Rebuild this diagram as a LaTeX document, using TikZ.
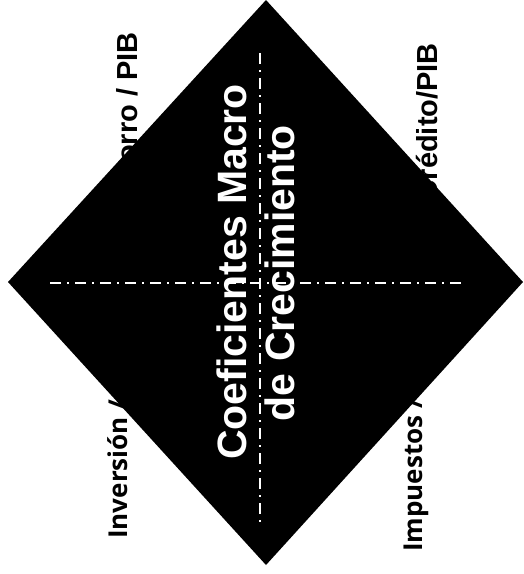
\documentclass[tikz,border=0pt]{standalone}
\usepackage{fontspec}
\setmainfont{Liberation Sans}
\newfontfamily\osans{Open Sans}
\begin{document}
\begin{tikzpicture}[x=1pt,y=-1pt,
  sidelabel/.style={rotate=90,inner sep=0pt,text=black,font=\fontsize{29}{29}\selectfont\bfseries},
  lowlabel/.style={rotate=90,inner sep=0pt,text=black,font=\fontsize{26}{26}\selectfont\osans\bfseries},
  maintext/.style={rotate=90,inner sep=0pt,text=white,font=\fontsize{41}{41}\selectfont\bfseries},
  axisline/.style={white,line width=2pt,dash pattern=on 11pt off 6pt on 2pt off 6pt}]
\useasboundingbox (0,0) rectangle (524,574);
% labels partly covered by the diamond
\node[sidelabel,anchor=base east] (ahorro) at (137,32) {Ahorro / PIB};
\node[sidelabel,anchor=base east] (credito) at (437,43) {Crédito/PIB};
\node[lowlabel,anchor=base west] (inversion) at (127,539) {Inversión / PIB};
\node[lowlabel,anchor=base west] (impuestos) at (422,552) {Impuestos / PIB};
% diamond
\coordinate (top) at (266,0);
\coordinate (right) at (523,282);
\coordinate (bottom) at (266,565);
\coordinate (left) at (8,282);
\fill[black] (top) -- (right) -- (bottom) -- (left) -- cycle;
% axes
\coordinate (vtop) at (260,53);
\coordinate (vbot) at (260,525);
\coordinate (hl) at (50,283);
\coordinate (hr) at (465,283);
\draw[axisline] (vtop) -- (vbot);
\draw[axisline] (hl) -- (hr);
% title
\node[maintext,anchor=base] (l1) at (246,272) {Coeficientes Macro};
\node[maintext,anchor=base] (l2) at (294,273) {de Crecimiento};
\end{tikzpicture}
\end{document}
